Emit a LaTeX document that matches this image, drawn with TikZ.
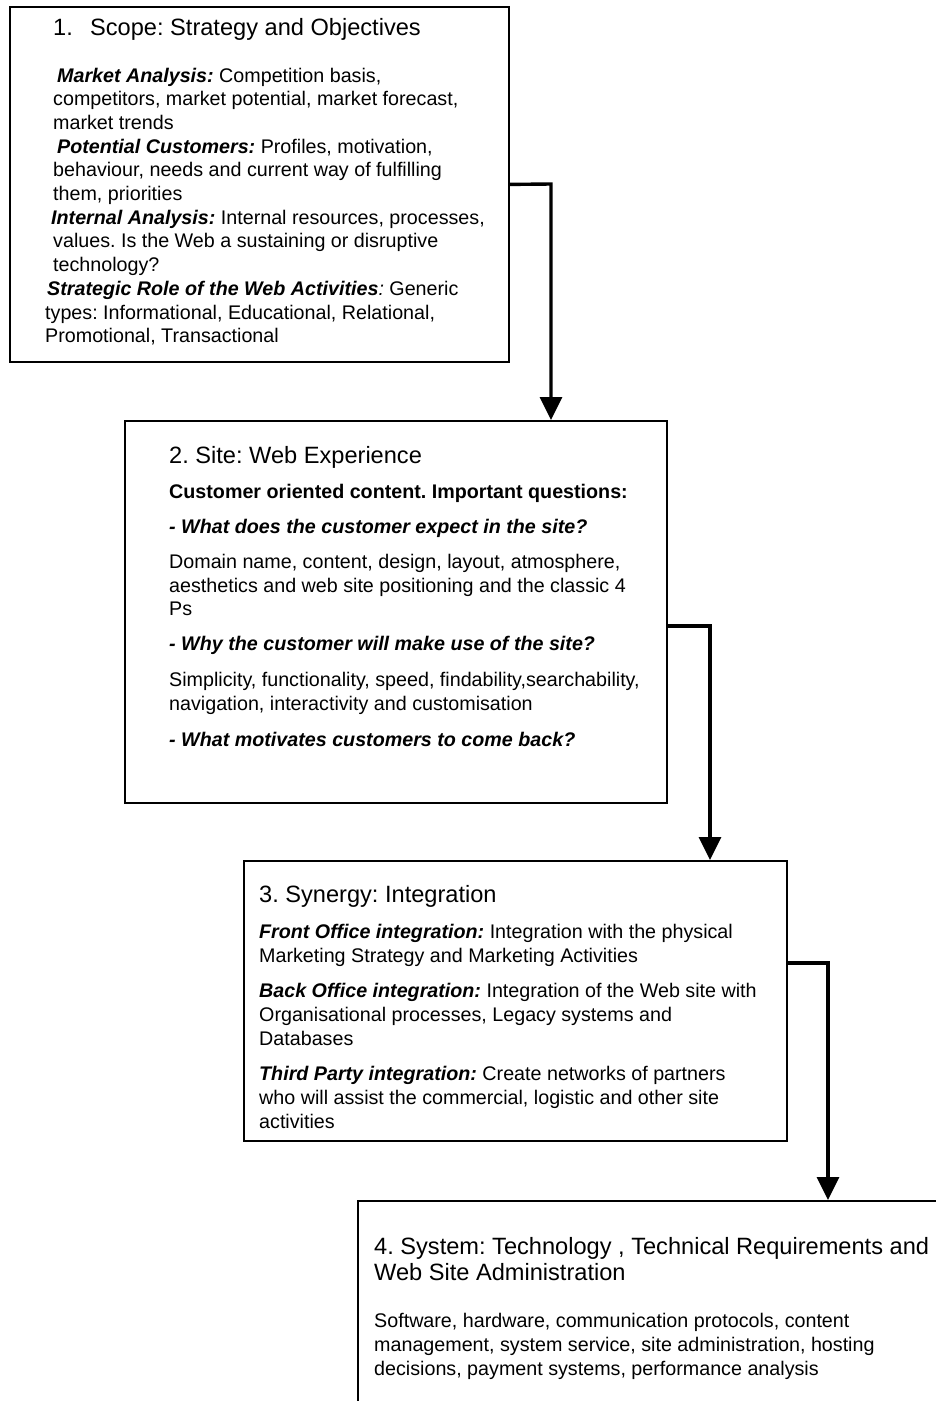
\documentclass[tikz,border=0pt]{standalone}
\usepackage{fontspec}
\setmainfont{Liberation Sans}
\usetikzlibrary{
arrows.meta,
positioning
}
\frenchspacing
\newcommand{\keyterm}[1]{\textbf{\textit{#1}}}
\tikzset{
  % Line of text, placed at its baseline:
  txtline/.style={anchor=base west, inner sep=0pt, font=\fontsize{19.7}{23.7}\selectfont},
  titleline/.style={anchor=base west, inner sep=0pt, font=\fontsize{23.6}{26}\selectfont}
}
\begin{document}
\begin{tikzpicture}[
    x=1pt, y=-1pt,
    stage/.style={
      draw,
      line width=1.8pt,
      rectangle,
      anchor=north west,
      inner sep=0pt
    },
    flow/.style={
      line width=3.4pt,
      -{Triangle[width=22pt,length=23pt]}
    }
  ]
  \useasboundingbox (0,0) rectangle (936,1401);
  \clip (0,0) rectangle (936,1401);
  % boxes
  \node[stage, minimum width=499pt, minimum height=355pt] (scope) at (9,6) {};
  \node[stage, minimum width=542pt, minimum height=382pt] (site) at (124,420) {};
  \node[stage, minimum width=543pt, minimum height=280pt] (synergy) at (243,860) {};
  \node[stage, minimum width=700pt, minimum height=400pt] (system) at (357,1200) {};
  % 1. scope
  \node[titleline] (scopetitle) at (53,35) {\makebox[37pt][l]{1.}Scope: Strategy and Objectives};
  \foreach \x/\y/\t [count=\i] in {
      57/82/{\keyterm{Market Analysis:} Competition basis,},
      53/105.7/{competitors, market potential, market forecast,},
      53/129.4/{market trends},
      57/153.1/{\keyterm{Potential Customers:} Profiles, motivation,},
      53/176.8/{behaviour, needs and current way of fulfilling},
      53/200.5/{them, priorities},
      51/224.2/{\keyterm{Internal Analysis:} Internal resources, processes,},
      53/247.9/{values. Is the Web a sustaining or disruptive},
      53/271.6/{technology?},
      47/295.3/{\keyterm{Strategic Role of the Web Activities}\textit{:} Generic},
      45/319/{types: Informational, Educational, Relational,},
      45/342.7/{Promotional, Transactional}}
    \node[txtline] (scope-\i) at (\x,\y) {\t};
  % 2. site
  \node[titleline] (sitetitle) at (169,463) {2. Site: Web Experience};
  \foreach \y/\t [count=\i] in {
      498/{\textbf{Customer oriented content. Important questions:}},
      533/{\keyterm{- What does the customer expect in the site?}},
      568/{Domain name, content, design, layout, atmosphere,},
      592/{aesthetics and web site positioning and the classic 4},
      615/{Ps},
      650/{\keyterm{- Why the customer will make use of the site?}},
      686/{Simplicity, functionality, speed, findability,searchability,},
      710/{navigation, interactivity and customisation},
      746/{\keyterm{- What motivates customers to come back?}}}
    \node[txtline] (site-\i) at (169,\y) {\t};
  % 3. synergy
  \node[titleline] (synergytitle) at (259,902) {3. Synergy: Integration};
  \foreach \y/\t [count=\i] in {
      938/{\keyterm{Front Office integration:} Integration with the physical},
      962/{Marketing Strategy and Marketing Activities},
      997/{\keyterm{Back Office integration:} Integration of the Web site with},
      1021/{Organisational processes, Legacy systems and},
      1045/{Databases},
      1080/{\keyterm{Third Party integration:} Create networks of partners},
      1104/{who will assist the commercial, logistic and other site},
      1128/{activities}}
    \node[txtline] (synergy-\i) at (259,\y) {\t};
  % 4. system
  \node[titleline] (systemtitle) at (374,1254) {4. System: Technology , Technical Requirements and};
  \node[titleline] (systemtitle2) at (374,1280) {Web Site Administration};
  \foreach \y/\t [count=\i] in {
      1327/{Software, hardware, communication protocols, content},
      1351/{management, system service, site administration, hosting},
      1375/{decisions, payment systems, performance analysis}}
    \node[txtline] (system-\i) at (374,\y) {\t};
  % connectors
  \coordinate (k1) at (551,184);
  \coordinate (k2) at (710,626);
  \coordinate (k3) at (828,963);
  \draw[flow] (scope.east) -- (k1) -- (k1 |- site.north);
  \draw[flow] (site.east |- k2) -- (k2) -- (k2 |- synergy.north);
  \draw[flow] (synergy.east |- k3) -- (k3) -- (k3 |- system.north);
\end{tikzpicture}
\end{document}
